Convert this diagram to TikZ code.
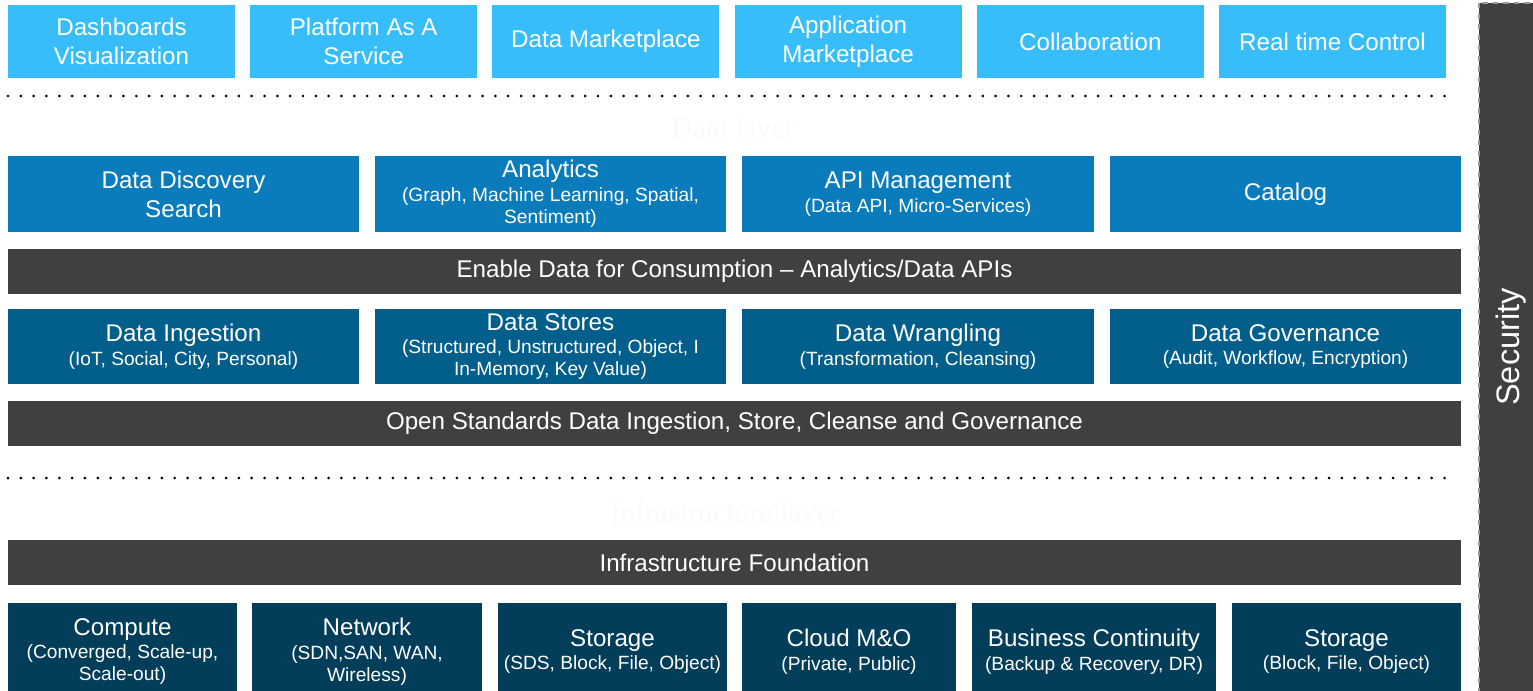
\documentclass[tikz,border=0pt]{standalone}
\usepackage{fontspec}
\setmainfont{Liberation Sans}
\newfontfamily\ghostfont{Liberation Serif}
\definecolor{toprow}{HTML}{38BDFB}
\definecolor{datarow}{HTML}{0A7CBB}
\definecolor{storerow}{HTML}{025E8B}
\definecolor{infrarow}{HTML}{023D5A}
\definecolor{bar}{HTML}{404040}
\newcommand{\subt}[1]{{\fontsize{10.9}{12}\selectfont #1}}
\tikzset{blk/.style 2 args={fill=#1, text=white, inner sep=0pt, align=center,
   minimum height=#2, font=\fontsize{13.75}{16.5}\selectfont},
 dotline/.style={line width=1.7pt, line cap=round, dash pattern=on 0pt off 7.3pt},
 ghost/.style={text=white!98!black, font=\ghostfont\fontsize{17}{19}\selectfont},
 }

\begin{document}
\begin{tikzpicture}[x=0.02cm, y=-0.02cm]
    \useasboundingbox (0,0) rectangle (1533,690);

    % applications
    \foreach \t[count=\i] in {Dashboards\\Visualization, Platform As A\\Service, Data Marketplace,
        Application\\Marketplace, Collaboration, Real time Control} {
        \node[blk={toprow}{1.46cm}, minimum width=4.54cm] (app\i) at (121.5+242.2*\i-242.2, 41.5) {\t};
    }
    \draw[dotline] (8,96) -- (1455,96);
    \node[ghost] (datalayer) at (733,130) {Data layer};

    % data layer
    \node[blk={datarow}{1.52cm}, minimum width=7.02cm] (disc) at (183.5,194) {Data Discovery\\Search};
    \node[blk={datarow}{1.52cm}, minimum width=7.02cm] (anal) at (550.5,194)
        {Analytics\\[-2.9pt]\subt{(Graph, Machine Learning, Spatial,}\\[-4pt]\subt{Sentiment)}};
    \node[blk={datarow}{1.52cm}, minimum width=7.04cm] (api) at (918,194)
        {API Management\\[-2.9pt]\subt{(Data API, Micro-Services)}};
    \node[blk={datarow}{1.52cm}, minimum width=7.02cm] (cat) at (1285.5,194) {Catalog};

    \node[blk={bar}{0.9cm}, minimum width=29.06cm] (consume) at (734.5,271.5)
        {Enable Data for Consumption -- Analytics/Data APIs};

    \node[blk={storerow}{1.5cm}, minimum width=7.02cm] (ingest) at (183.5,346.5)
        {Data Ingestion\\[-2.9pt]\subt{(IoT, Social, City, Personal)}};
    \node[blk={storerow}{1.5cm}, minimum width=7.02cm] (stores) at (550.5,346.5)
        {Data Stores\\[-2.9pt]\subt{(Structured, Unstructured, Object, I}\\[-4pt]\subt{In-Memory,\ Key Value)}};
    \node[blk={storerow}{1.5cm}, minimum width=7.04cm] (wrangle) at (918,346.5)
        {Data Wrangling\\[-2.9pt]\subt{(Transformation, Cleansing)}};
    \node[blk={storerow}{1.5cm}, minimum width=7.02cm] (govern) at (1285.5,346.5)
        {Data Governance\\[-2.9pt]\subt{(Audit, Workflow, Encryption)}};

    \node[blk={bar}{0.9cm}, minimum width=29.06cm] (openstd) at (734.5,423.5)
        {Open Standards Data Ingestion, Store, Cleanse and Governance};

    \draw[dotline] (8,478) -- (1455,478);
    \node[ghost] (infralayer) at (725,515) {Infrastructure layer};

    % infrastructure
    \node[blk={bar}{0.9cm}, minimum width=29.06cm] (found) at (734.5,562.5) {Infrastructure Foundation};

    \node[blk={infrarow}{1.94cm}, minimum width=4.58cm] (comp) at (122.5,651.5)
        {Compute\\[-2.9pt]\subt{(Converged, Scale-up,}\\[-4pt]\subt{Scale-out)}};
    \node[blk={infrarow}{1.94cm}, minimum width=4.6cm] (net) at (367,651.5)
        {Network\\[-2.9pt]\subt{(SDN,SAN, WAN,}\\[-4pt]\subt{Wireless)}};
    \node[blk={infrarow}{1.94cm}, minimum width=4.58cm] (stor) at (612.5,651.5)
        {Storage\\[-2.9pt]\subt{(SDS, Block, File, Object)}};
    \node[blk={infrarow}{1.94cm}, minimum width=4.28cm] (cloud) at (849,651.5)
        {Cloud M\&O\\[-2.9pt]\subt{(Private, Public)}};
    \node[blk={infrarow}{1.94cm}, minimum width=4.88cm] (bcont) at (1094,651.5)
        {Business Continuity\\[-2.9pt]\subt{(Backup \& Recovery, DR)}};
    \node[blk={infrarow}{1.94cm}, minimum width=4.58cm] (stor2) at (1346.5,651.5)
        {Storage\\[-2.9pt]\subt{(Block, File, Object)}};

    % security
    \draw[fill=bar, draw=gray!80, line width=0.8pt, dashed] (1479,3) rectangle (1540,700);
    \node[text=white, rotate=90, font=\fontsize{18.5}{20}\selectfont] (sec) at (1511,347) {Security};
\end{tikzpicture}
\end{document}
